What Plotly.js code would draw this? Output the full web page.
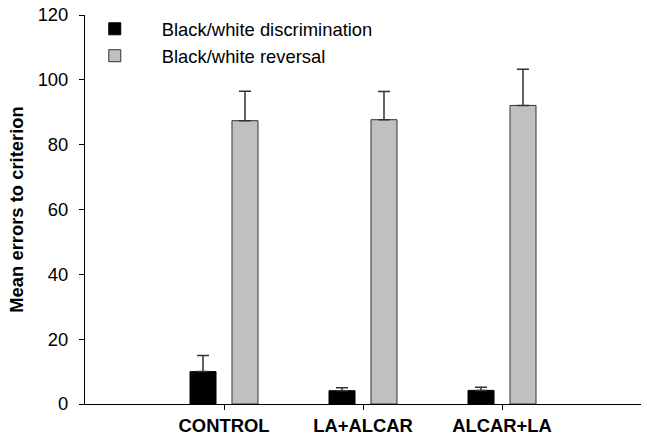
<!DOCTYPE html>
<html>
<head>
<meta charset="utf-8">
<script src="https://cdn.plot.ly/plotly-3.0.1.min.js"></script>
<style>
  html, body { margin: 0; padding: 0; background: #fff; }
  #chart { width: 647px; height: 447px; }
</style>
</head>
<body>
<div id="chart"></div>
<script>
const groups = ['CONTROL', 'LA+ALCAR', 'ALCAR+LA'];

const discrimination = [10, 4.1, 4.2];
const discriminationErr = [5, 0.9, 1.0];

const reversal = [87.4, 87.7, 92.1];
const reversalErr = [9.1, 8.7, 11.2];

const zeros = [0, 0, 0];

const FONT = "Arial, 'Liberation Sans', sans-serif";
const FS = 18.4;

const traces = [
  {
    x: groups, y: discrimination,
    type: 'bar', name: 'Black/white discrimination',
    marker: { color: '#000000', line: { color: '#000000', width: 1 } },
    error_y: { type: 'data', symmetric: false, array: discriminationErr, arrayminus: zeros,
               color: '#333333', thickness: 1.5, width: 6 },
  },
  {
    x: groups, y: reversal,
    type: 'bar', name: 'Black/white reversal',
    marker: { color: '#c0c0c0', line: { color: '#333333', width: 1 } },
    error_y: { type: 'data', symmetric: false, array: reversalErr, arrayminus: zeros,
               color: '#333333', thickness: 1.5, width: 6 },
  },
];

const layout = {
  width: 647, height: 447,
  margin: { t: 15, r: 6, b: 43, l: 85 },
  paper_bgcolor: '#fff', plot_bgcolor: '#fff',
  font: { family: FONT, size: FS, color: '#000' },
  barmode: 'group',
  bargap: 0.396,
  bargroupgap: 0.38,
  showlegend: true,
  legend: {
    x: -0.031, xanchor: 'left', y: 1.012, yanchor: 'top',
    bgcolor: 'rgba(0,0,0,0)', itemwidth: 84,
    font: { family: FONT, size: FS, color: '#000' },
    tracegroupgap: 0,
  },
  xaxis: {
    type: 'category', range: [-1, 3],
    showline: true, linecolor: '#000', linewidth: 1,
    ticks: 'outside', ticklen: 5, tickcolor: '#000',
    showgrid: false, zeroline: false,
    tickfont: { family: FONT, size: FS, color: '#000', weight: 'bold' },
  },
  yaxis: {
    range: [0, 120], dtick: 20,
    showline: true, linecolor: '#000', linewidth: 1,
    ticks: 'outside', ticklen: 5, tickcolor: '#000',
    ticklabelstandoff: 7,
    showgrid: false, zeroline: false,
    tickfont: { family: FONT, size: FS, color: '#000' },
    title: { text: 'Mean errors to criterion', standoff: 9,
             font: { family: FONT, size: FS, color: '#000', weight: 'bold' } },
  },
};

Plotly.newPlot('chart', traces, layout, { displayModeBar: false, staticPlot: true });
</script>
</body>
</html>
